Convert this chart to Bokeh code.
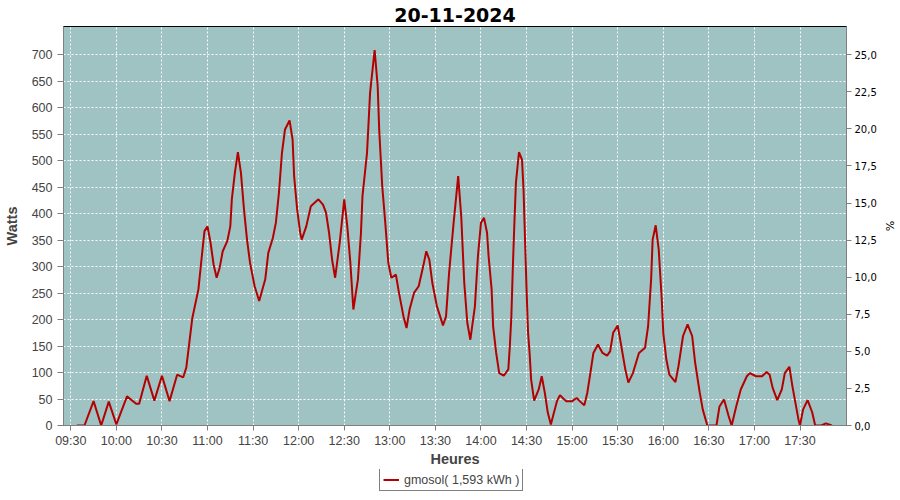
from bokeh.plotting import figure
from bokeh.layouts import column
from bokeh.models import (Range1d, LinearAxis, FixedTicker, CustomJSTickFormatter,
                          Legend, LegendItem)
from bokeh.embed import file_html
from bokeh.resources import INLINE

# ---- data ----
times = [
    "09:34", "09:39", "09:45", "09:50", "09:55",
    "10:00", "10:07", "10:13", "10:15", "10:20", "10:25", "10:30", "10:35", "10:40", "10:44",
    "10:46", "10:50", "10:54", "10:56", "10:58",
    "11:00", "11:02", "11:04", "11:06", "11:08", "11:10", "11:13", "11:15", "11:16", "11:18",
    "11:20", "11:22", "11:24", "11:26", "11:28", "11:31", "11:34", "11:38", "11:40", "11:43",
    "11:45", "11:47", "11:49", "11:51", "11:54", "11:56", "11:57", "11:59",
    "12:01", "12:02", "12:05", "12:08", "12:13", "12:16", "12:18", "12:20", "12:22", "12:24",
    "12:27", "12:30", "12:32", "12:34", "12:36", "12:39", "12:41", "12:42", "12:45", "12:47",
    "12:50", "12:52", "12:53", "12:55", "12:57", "12:59",
    "13:01", "13:04", "13:06", "13:09", "13:11", "13:13", "13:16", "13:19", "13:22", "13:24",
    "13:26", "13:28", "13:31", "13:35", "13:37", "13:39", "13:42", "13:45", "13:47", "13:49",
    "13:51", "13:53", "13:56", "13:58",
    "14:00", "14:02", "14:04", "14:05", "14:07", "14:08", "14:10", "14:12", "14:15", "14:18",
    "14:19", "14:20", "14:21", "14:22", "14:23", "14:25", "14:27", "14:28", "14:29", "14:30",
    "14:31", "14:32", "14:33", "14:35", "14:38", "14:40", "14:42", "14:44", "14:46", "14:48",
    "14:50", "14:52", "14:56",
    "15:00", "15:03", "15:05", "15:08", "15:10", "15:12", "15:14", "15:17", "15:20", "15:23",
    "15:25", "15:27", "15:30", "15:32", "15:35", "15:37", "15:40", "15:42", "15:44", "15:48",
    "15:50", "15:52", "15:53", "15:55", "15:57", "15:59",
    "16:00", "16:02", "16:04", "16:08", "16:10", "16:13", "16:16", "16:19", "16:21", "16:24",
    "16:26", "16:29", "16:35", "16:37", "16:40", "16:43", "16:45", "16:48", "16:51", "16:55",
    "16:57",
    "17:01", "17:05", "17:08", "17:10", "17:12", "17:15", "17:18", "17:20", "17:23", "17:25",
    "17:29", "17:30", "17:32", "17:35", "17:38", "17:40", "17:44", "17:47", "17:51",
]
watts = [
    0, 0, 46, 0, 45,
    2, 55, 41, 41, 94, 47, 94, 46, 96, 91,
    109, 203, 257, 313, 367,
    376, 345, 304, 279, 298, 329, 348, 376, 427, 477,
    516, 477, 408, 351, 307, 263, 235, 276, 326, 354,
    383, 439, 515, 559, 576, 540, 471, 408,
    364, 351, 376, 414, 427, 417, 402, 364, 313, 279,
    345, 427, 376, 308, 219, 276, 364, 433, 515, 628,
    709, 641, 559, 452, 383, 307,
    279, 285, 251, 206, 184, 219, 251, 263, 301, 329,
    313, 269, 225, 189, 206, 288, 383, 471, 395, 269,
    194, 162, 225, 320,
    383, 392, 364, 320, 257, 187, 137, 99, 94, 106,
    150, 206, 301, 383, 458, 516, 502, 446, 351, 257,
    175, 137, 87, 47, 68, 93, 62, 24, 2, 24,
    46, 57, 46,
    46, 52, 46, 38, 62, 99, 137, 153, 137, 132,
    140, 175, 189, 156, 106, 81, 99, 118, 137, 147,
    187, 276, 351, 378, 332, 238,
    175, 125, 96, 82, 112, 169, 191, 169, 118, 62,
    30, 0, 0, 36, 49, 18, 0, 36, 68, 93,
    99,
    93, 93, 101, 96, 71, 48, 68, 99, 111, 74,
    11, 0, 30, 48, 25, 0, 0, 4, 0,
]
assert len(times) == len(watts)

x_tick_labels = ["09:30", "10:00", "10:30", "11:00", "11:30", "12:00", "12:30", "13:00",
                 "13:30", "14:00", "14:30", "15:00", "15:30", "16:00", "16:30", "17:00", "17:30"]
watt_ticks = [0, 50, 100, 150, 200, 250, 300, 350, 400, 450, 500, 550, 600, 650, 700]
pct_ticks = [0, 2.5, 5, 7.5, 10, 12.5, 15, 17.5, 20, 22.5, 25]
series_label = "gmosol( 1,593 kWh )"
title_text = "20-11-2024"


def to_min(s):
    h, m = s.split(":")
    return int(h) * 60 + int(m)


xs = [to_min(t) for t in times]

Y_MAX = 753.4
PCT_PER_WATT = 25.0 / 700.0
LINE_COLOR = "#b40000"

# ---- main chart ----
p = figure(frame_width=783, frame_height=399, output_backend="svg", toolbar_location=None,
           title=title_text,
           x_range=Range1d(565.2, 1080.6), y_range=Range1d(0, Y_MAX),
           min_border=0,
           background_fill_color="#9ec3c2", border_fill_color="white",
           outline_line_color="black", outline_line_width=1)

p.title.align = "center"
p.title.text_font = "DejaVu Sans"
p.title.text_font_size = "19px"
p.title.text_font_style = "bold"
p.title.text_color = "black"

tick_font = "Liberation Sans"
gray = "#808080"
label_col = "#444444"

# x axis
xa = p.xaxis[0]
xa.ticker = FixedTicker(ticks=[to_min(t) for t in x_tick_labels])
xa.major_label_overrides = {to_min(t): t for t in x_tick_labels}
xa.axis_label = "Heures"

# left axis
ya = p.yaxis[0]
ya.ticker = FixedTicker(ticks=watt_ticks)
ya.axis_label = "Watts"

for ax in (xa, ya):
    ax.axis_line_color = gray
    ax.major_tick_line_color = gray
    ax.major_tick_in = 0
    ax.minor_tick_line_color = None
    ax.major_label_text_font = tick_font
    ax.major_label_text_font_size = "12.5px"
    ax.major_label_text_color = label_col
    ax.axis_label_text_font = "Liberation Sans"
    ax.axis_label_text_font_size = "14.5px"
    ax.axis_label_text_font_style = "bold"
    ax.axis_label_text_color = label_col

xa.major_tick_out = 5
xa.major_label_standoff = 3
xa.axis_label_standoff = 0
ya.major_tick_out = 6
ya.major_label_standoff = 5
ya.axis_label_standoff = 9

# right axis (%)
p.extra_y_ranges = {"pct": Range1d(0, Y_MAX * PCT_PER_WATT)}
ra = LinearAxis(y_range_name="pct", axis_label="%",
                ticker=FixedTicker(ticks=pct_ticks),
                formatter=CustomJSTickFormatter(code="return tick.toFixed(1).replace('.', ',');"))
ra.axis_line_color = gray
ra.major_tick_line_color = gray
ra.major_tick_in = 0
ra.major_tick_out = 5
ra.minor_tick_line_color = None
ra.major_label_text_font = "DejaVu Sans"
ra.major_label_text_font_size = "10px"
ra.major_label_text_color = "black"
ra.major_label_standoff = 3
ra.axis_label_text_font = "DejaVu Sans"
ra.axis_label_text_font_size = "11px"
ra.axis_label_text_font_style = "normal"
ra.axis_label_text_color = "black"
ra.axis_label_standoff = 3
p.add_layout(ra, "right")

# grid
p.grid.grid_line_color = "white"
p.grid.grid_line_dash = "2 2"
p.grid.grid_line_width = 1

p.line(xs, watts, line_color=LINE_COLOR, line_width=2)

# ---- legend strip under the chart ----
# the strip's x range lies away from the data so the series itself is not drawn here,
# only its legend sample
lf = figure(frame_width=884, frame_height=23, output_backend="svg", toolbar_location=None,
            x_range=Range1d(0, 100), y_range=Range1d(0, 23), min_border=0,
            x_axis_location=None, y_axis_location=None,
            background_fill_color="white", border_fill_color="white",
            outline_line_color=None)
lf.xgrid.visible = False
lf.ygrid.visible = False
lr = lf.line(xs, watts, line_color=LINE_COLOR, line_width=2)
leg = Legend(items=[LegendItem(label=series_label, renderers=[lr])],
             location=(379, 1), orientation="horizontal",
             border_line_color="black", border_line_width=1,
             background_fill_color="white", background_fill_alpha=1,
             label_text_font="Liberation Sans", label_text_font_size="12.5px",
             label_text_color=label_col, glyph_width=16, glyph_height=15,
             label_height=15, padding=3, margin=0, spacing=0, label_standoff=5)
lf.add_layout(leg, "center")

layout = column(p, lf, spacing=0)
open("out.html", "w").write(file_html(layout, INLINE))
